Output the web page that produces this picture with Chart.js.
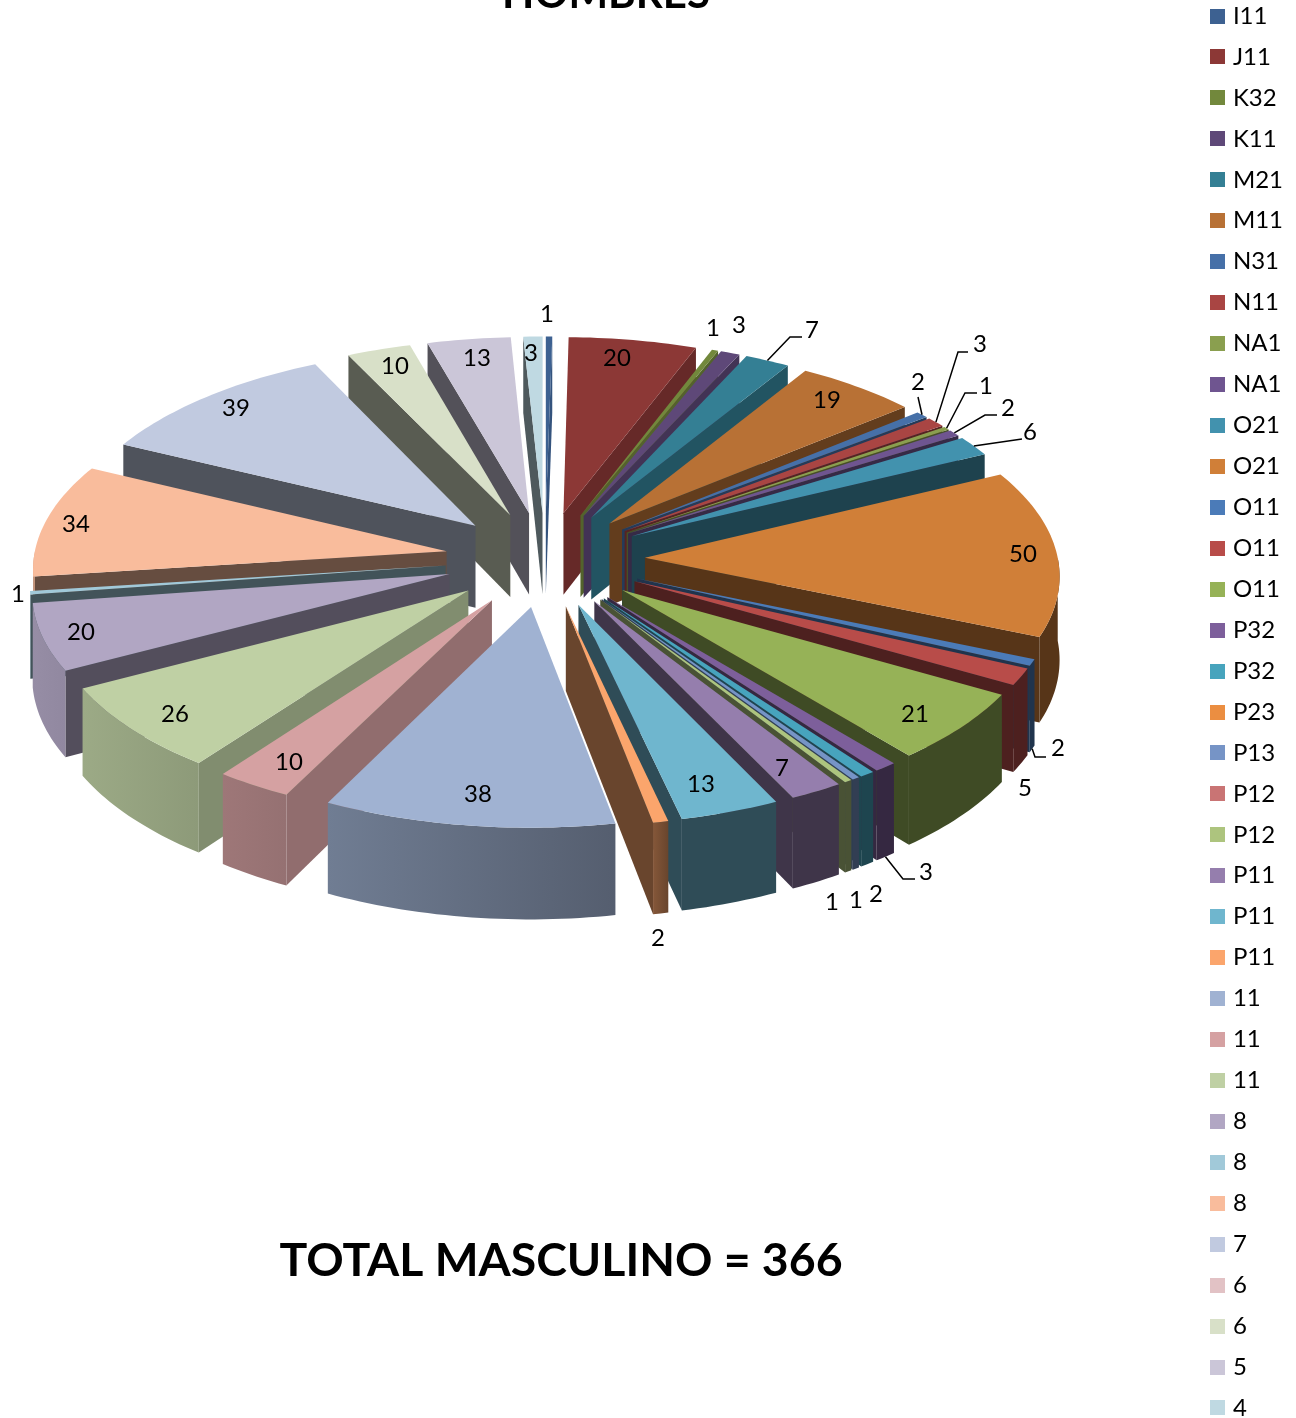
<!DOCTYPE html>
<html>
<head>
<meta charset="utf-8">
<title>Hombres</title>
<script src="https://cdn.jsdelivr.net/npm/chart.js@4"></script>
<style>
  html, body { margin: 0; background: #fff; overflow: hidden; height: 100%; }
  #chart { position: absolute; left: -2px; top: -38px; }
</style>
</head>
<body>
<canvas id="chart" width="1298" height="1500"></canvas>
<script>
const categories = ['I11', 'J11', 'K32', 'K11', 'M21', 'M11', 'N31', 'N11', 'NA1', 'NA1', 'O21', 'O21', 'O11', 'O11', 'O11', 'P32', 'P32', 'P23', 'P13', 'P12', 'P12', 'P11', 'P11', 'P11', '11', '11', '11', '8', '8', '8', '7', '6', '6', '5', '4'];
const values = [1, 20, 1, 3, 7, 19, 2, 3, 1, 2, 6, 50, 2, 5, 21, 3, 2, 0, 1, 0, 1, 7, 13, 2, 38, 10, 26, 20, 1, 34, 39, 0, 10, 13, 3];
const colors = ['#3d6191', '#8c3836', '#72883c', '#5e4878', '#347f94', '#b87135', '#4670a8', '#a94543', '#8a9f4f', '#6f5590', '#4292ae', '#d07f38', '#4b7bb8', '#b84c49', '#96b257', '#7d5f9b', '#47a4bd', '#eb8e41', '#7694c6', '#c97474', '#adc47e', '#957ead', '#6fb6ce', '#fba56c', '#a0b2d2', '#d5a1a2', '#bfd0a4', '#b1a6c3', '#a1c9d9', '#f9bc9c', '#c1cae0', '#e2c2c5', '#d8e0c8', '#cbc6d8', '#bfd9e2'];

// where each value label sits on the page, by slice index
const labelPos = {
  0: [547, 314], 1: [617, 358], 2: [713, 328], 3: [739, 325], 4: [812, 330], 5: [827, 400],
  6: [918, 382], 7: [980, 344], 8: [986, 386], 9: [1008, 408], 10: [1030, 432], 11: [1023, 554],
  12: [1058, 748], 13: [1025, 788], 14: [915, 714], 15: [926, 872], 16: [876, 894], 18: [856, 900],
  20: [832, 902], 21: [782, 768], 22: [701, 784], 23: [658, 938], 24: [478, 794], 25: [289, 762],
  26: [175, 714], 27: [81, 632], 28: [18, 594], 29: [76, 524], 30: [236, 408], 32: [395, 366],
  33: [477, 358], 34: [531, 353]
};
// leader lines: label end, elbow, and whether they leave the slice from the bottom of its wall
const leaders = {
  4: [[802, 337], [790, 337]],
  6: [[918, 397], [918, 397]],
  7: [[968, 352], [958, 352]],
  8: [[977, 393], [965, 393]],
  9: [[997, 415], [985, 415]],
  10: [[1022, 439], [1022, 439]],
  12: [[1046, 757], [1035, 757], true],
  15: [[915, 879], [903, 879], true]
};

const pageTop = 38, pageLeft = 2;
const cx = 545, cy = 559, tilt = 0.475, persp = 5400, depth = 83;

function project(u, v, h) {
  const s = 1 / (1 - v / persp);
  return [cx + u * s, cy + (tilt * v + (h || 0)) * s];
}

function shade(hex, f) {
  const n = parseInt(hex.slice(1), 16);
  const c = [n >> 16, (n >> 8) & 255, n & 255].map(x => Math.round(x * f));
  return `rgb(${c[0]},${c[1]},${c[2]})`;
}

function fillPoly(ctx, pts, fill) {
  ctx.beginPath();
  pts.forEach((p, i) => (i ? ctx.lineTo(p[0], p[1]) : ctx.moveTo(p[0], p[1])));
  ctx.closePath();
  ctx.fillStyle = fill;
  ctx.fill();
}

// left facing parts of the wall catch the light, the right side stays dark
function wallLight(a) {
  if (a < 1.36) return 0.42;
  return 0.58 - 0.27 * Math.cos(a);
}

function startWallLight(a) {
  const deg = a * 180 / Math.PI;
  if (deg <= 126) return 0.68;
  if (deg <= 152) return 0.68 - (deg - 126) * 0.21 / 26;
  if (deg <= 172) return 0.47 - (deg - 152) * 0.06 / 20;
  return 0.41;
}

function endWallLight(a) {
  const deg = a * 180 / Math.PI;
  return Math.max(0.42, 0.45 + (-26 - deg) * 0.0065);
}

function drawSlice(ctx, arc, color) {
  const a0 = arc.startAngle, a1 = arc.endAngle, r = arc.outerRadius;
  const mid = (a0 + a1) / 2;
  const ox = arc.options.offset * Math.cos(mid), oy = arc.options.offset * Math.sin(mid);
  const edge = (a, h) => project(ox + r * Math.cos(a), oy + r * Math.sin(a), h);
  const apex = h => project(ox, oy, h);

  if (Math.cos(a0) < 0) {
    fillPoly(ctx, [apex(0), edge(a0, 0), edge(a0, depth), apex(depth)], shade(color, startWallLight(a0)));
  }
  if (Math.cos(a1) > 0) {
    fillPoly(ctx, [apex(0), edge(a1, 0), edge(a1, depth), apex(depth)], shade(color, endWallLight(a1)));
  }

  const lo = Math.max(a0, 0), hi = Math.min(a1, Math.PI);
  if (lo < hi) {
    const top = [], bottom = [];
    const steps = Math.ceil((hi - lo) / 0.02);
    for (let i = 0; i <= steps; i++) {
      const a = lo + (hi - lo) * i / steps;
      top.push(edge(a, 0));
      bottom.unshift(edge(a, depth));
    }
    const g = ctx.createLinearGradient(top[0][0], 0, top[steps][0] + 0.01, 0);
    g.addColorStop(0, shade(color, wallLight(lo)));
    g.addColorStop(1, shade(color, wallLight(hi)));
    fillPoly(ctx, top.concat(bottom), g);
  }

  const face = [apex(0)];
  const n = Math.ceil((a1 - a0) / 0.02);
  for (let i = 0; i <= n; i++) face.push(edge(a0 + (a1 - a0) * i / n, 0));
  fillPoly(ctx, face, color);
}

function drawLabels(ctx, arcs) {
  ctx.font = '24px Lato';
  ctx.textAlign = 'center';
  ctx.textBaseline = 'middle';
  arcs.forEach((arc, i) => {
    if (!labelPos[i]) return;
    ctx.fillStyle = '#000';
    ctx.fillText(String(values[i]), labelPos[i][0], labelPos[i][1]);
    const lead = leaders[i];
    if (!lead) return;
    const mid = (arc.startAngle + arc.endAngle) / 2;
    const dist = arc.outerRadius + arc.options.offset;
    const from = project(dist * Math.cos(mid), dist * Math.sin(mid), lead[2] ? depth : 0);
    ctx.beginPath();
    ctx.moveTo(lead[0][0], lead[0][1]);
    ctx.lineTo(lead[1][0], lead[1][1]);
    ctx.lineTo(from[0], from[1]);
    ctx.strokeStyle = '#000';
    ctx.lineWidth = 1.5;
    ctx.stroke();
  });
}

const tiltedPie = {
  id: 'tiltedPie',
  beforeDatasetsDraw(chart) {
    const ctx = chart.ctx;
    const arcs = chart.getDatasetMeta(0).data;
    ctx.save();
    ctx.translate(pageLeft, pageTop);
    arcs
      .map((arc, i) => ({ arc, i }))
      .filter(d => d.arc.circumference > 0)
      .sort((a, b) => Math.sin((a.arc.startAngle + a.arc.endAngle) / 2) - Math.sin((b.arc.startAngle + b.arc.endAngle) / 2))
      .forEach(d => drawSlice(ctx, d.arc, colors[d.i]));
    drawLabels(ctx, arcs);

    ctx.fillStyle = '#000';
    ctx.textAlign = 'center';
    ctx.textBaseline = 'alphabetic';
    ctx.font = 'bold 42px Lato';
    ctx.fillText('HOMBRES', 606, 8);
    ctx.font = 'bold 46.4px Lato';
    ctx.fillText('TOTAL MASCULINO = 366', 561, 1276);
    ctx.restore();
    return false; // the slices are already painted
  }
};

function legendSquare(color) {
  const c = document.createElement('canvas');
  c.width = 15;
  c.height = 15;
  const g = c.getContext('2d');
  g.fillStyle = color;
  g.fillRect(0, 0, 15, 15);
  return c;
}

new Chart(document.getElementById('chart'), {
  type: 'pie',
  data: {
    labels: categories,
    datasets: [{ data: values, backgroundColor: colors, borderWidth: 0, offset: 100 }]
  },
  plugins: [tiltedPie],
  options: {
    responsive: false,
    animation: false,
    radius: 413,
    layout: { padding: { right: 3 } },
    plugins: {
      tooltip: { enabled: false },
      legend: {
        position: 'right',
        labels: {
          color: '#000',
          font: { family: 'Lato', size: 24 },
          padding: 16.94,
          usePointStyle: true,
          pointStyleWidth: 6,
          generateLabels(chart) {
            const items = Chart.overrides.pie.plugins.legend.labels.generateLabels(chart);
            return items.map((item, i) => ({ ...item, pointStyle: legendSquare(colors[i]) }));
          }
        }
      }
    }
  }
});
</script>
</body>
</html>
